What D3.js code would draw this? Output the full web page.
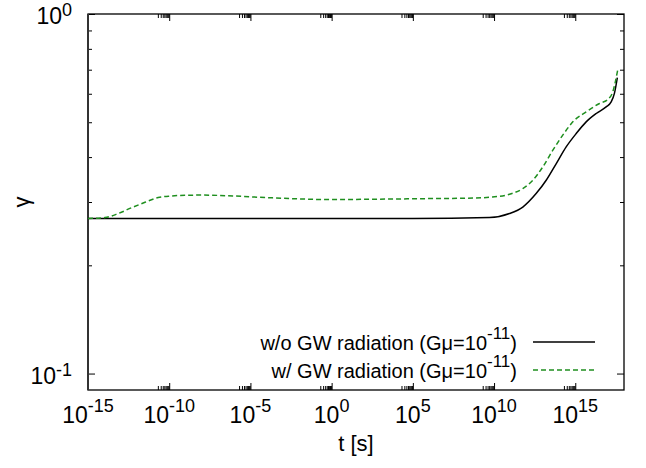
<!DOCTYPE html>
<html>
<head>
<meta charset="utf-8">
<script src="https://cdn.jsdelivr.net/npm/d3@7"></script>
<style>
html,body{margin:0;padding:0;background:#fff;}
svg{display:block;font-family:"Liberation Sans",Arial,Helvetica,sans-serif;}
</style>
</head>
<body>
<svg id="chart" width="646" height="468"></svg>
<script>
// ---- data ----
const xMajorExp = [-15, -10, -5, 0, 5, 10, 15];
const yMajorExp = [-1, 0];
const yMinor = [0.2, 0.3, 0.4, 0.5, 0.6, 0.7, 0.8, 0.9];

const noGwLogT = [-15, -5, 5, 9.72, 10.95, 11.77, 12.59, 13.21, 13.83, 14.44, 15.06, 15.67, 16.29, 16.90, 17.21, 17.41, 17.59];
const noGwGamma = [0.270, 0.270, 0.270, 0.2715, 0.2786, 0.2905, 0.3166, 0.3448, 0.3838, 0.4270, 0.4653, 0.5012, 0.5288, 0.5517, 0.5696, 0.6013, 0.665];

const gwLogT = [-15, -13.95, -13.14, -12.31, -11.49, -10.68, -9.85, -9.03, -8.01, -6.08, -4.01, -1.96, 0.07, 2.14, 4.19, 6.22, 8.29, 9.91, 10.95, 11.77, 12.39, 13.00, 13.62, 14.23, 14.85, 15.67, 16.49, 17.00, 17.31, 17.61];
const gwGamma = [0.270, 0.2716, 0.2786, 0.2893, 0.2994, 0.3086, 0.3118, 0.3132, 0.3136, 0.3118, 0.3086, 0.3059, 0.3047, 0.3053, 0.3059, 0.3067, 0.3073, 0.3098, 0.3151, 0.3269, 0.3448, 0.3756, 0.4180, 0.4603, 0.5012, 0.5343, 0.5638, 0.5785, 0.6075, 0.698];

const legendLabels = ["w/o GW radiation (G\u03bc=10", "w/ GW radiation (G\u03bc=10"];
const legendSup = "-11";
const xTitle = "t [s]";
const yTitle = "\u03b3";

// ---- layout ----
const L = 88, T = 14, R = 624, B = 390;
const green = "#1f8f1f";

const svg = d3.select("#chart");
const x = d3.scaleLog().domain([1e-15, 1e18]).range([L, R]);
const y = d3.scaleLog().domain([0.09, 1]).range([B, T]);

svg.append("defs").append("clipPath").attr("id", "clip")
  .append("rect").attr("x", L).attr("y", T).attr("width", R - L).attr("height", B - T);

// ticks via d3 axes
const xMajor = xMajorExp.map(e => Math.pow(10, e));
const xMinor = [];
xMajorExp.forEach(e => { if (e > -15) for (let k = 2; k <= 9; k++) xMinor.push(k * Math.pow(10, e - 1)); });
const yMajor = yMajorExp.map(e => Math.pow(10, e));

function styleAxis(g) {
  g.select(".domain").remove();
  g.selectAll("line").attr("stroke", "#000").attr("stroke-width", 1);
  g.selectAll("text").remove();
}
svg.append("g").attr("transform", `translate(0,${B})`)
  .call(d3.axisBottom(x).tickValues(xMajor).tickSize(-7)).call(styleAxis);
svg.append("g").attr("transform", `translate(0,${B})`)
  .call(d3.axisBottom(x).tickValues(xMinor).tickSize(-4)).call(styleAxis);
svg.append("g").attr("transform", `translate(0,${T})`)
  .call(d3.axisTop(x).tickValues(xMajor).tickSize(-7)).call(styleAxis);
svg.append("g").attr("transform", `translate(0,${T})`)
  .call(d3.axisTop(x).tickValues(xMinor).tickSize(-4)).call(styleAxis);
svg.append("g").attr("transform", `translate(${L},0)`)
  .call(d3.axisLeft(y).tickValues(yMajor).tickSize(-7)).call(styleAxis);
svg.append("g").attr("transform", `translate(${L},0)`)
  .call(d3.axisLeft(y).tickValues(yMinor).tickSize(-4)).call(styleAxis);
svg.append("g").attr("transform", `translate(${R},0)`)
  .call(d3.axisRight(y).tickValues(yMajor).tickSize(-7)).call(styleAxis);
svg.append("g").attr("transform", `translate(${R},0)`)
  .call(d3.axisRight(y).tickValues(yMinor).tickSize(-4)).call(styleAxis);

// frame
svg.append("rect").attr("x", L).attr("y", T).attr("width", R - L).attr("height", B - T)
  .attr("fill", "none").attr("stroke", "#000").attr("stroke-width", 1.3);
svg.append("line").attr("x1", L).attr("x2", L).attr("y1", T).attr("y2", B)
  .attr("stroke", "#333").attr("stroke-width", 2);

// tick labels
xMajorExp.forEach(e => {
  const t = svg.append("text").attr("x", x(Math.pow(10, e))).attr("y", B + 33)
    .attr("text-anchor", "middle").attr("font-size", 23).attr("fill", "#000");
  t.append("tspan").text("10");
  t.append("tspan").attr("font-size", 18).attr("dy", -11).text(String(e));
});
yMajorExp.forEach(e => {
  const t = svg.append("text").attr("x", L - 16).attr("y", y(Math.pow(10, e)) + 10)
    .attr("text-anchor", "end").attr("font-size", 23).attr("fill", "#000");
  t.append("tspan").text("10");
  t.append("tspan").attr("font-size", 18).attr("dy", -8).text(String(e));
});

// axis titles
svg.append("text").attr("x", (L + R) / 2).attr("y", 451).attr("text-anchor", "middle")
  .attr("font-size", 22).text(xTitle);
svg.append("text").attr("transform", "translate(29,202) rotate(-90)").attr("text-anchor", "middle")
  .attr("font-size", 22).text(yTitle);

// curves
const line = d3.line().x(d => x(Math.pow(10, d[0]))).y(d => y(d[1])).curve(d3.curveMonotoneX);
const plot = svg.append("g").attr("clip-path", "url(#clip)");
plot.append("path").datum(noGwLogT.map((t, i) => [t, noGwGamma[i]]))
  .attr("d", line).attr("fill", "none").attr("stroke", "#000").attr("stroke-width", 1.5);
plot.append("path").datum(gwLogT.map((t, i) => [t, gwGamma[i]]))
  .attr("d", line).attr("fill", "none").attr("stroke", green).attr("stroke-width", 1.5)
  .attr("stroke-dasharray", "5,3");

// legend
const legRows = [{y: 342, color: "#000", dash: null}, {y: 370, color: green, dash: "5,3"}];
legRows.forEach((r, i) => {
  const t = svg.append("text").attr("x", 517).attr("y", r.y + 8).attr("text-anchor", "end")
    .attr("font-size", 20).attr("fill", "#000");
  t.append("tspan").text(legendLabels[i]);
  t.append("tspan").attr("font-size", 17).attr("dy", -11).text(legendSup);
  t.append("tspan").attr("dy", 11).text(")");
  svg.append("line").attr("x1", 533).attr("x2", 595).attr("y1", r.y).attr("y2", r.y)
    .attr("stroke", r.color).attr("stroke-width", 1.5)
    .attr("stroke-dasharray", r.dash);
});
</script>
</body>
</html>
